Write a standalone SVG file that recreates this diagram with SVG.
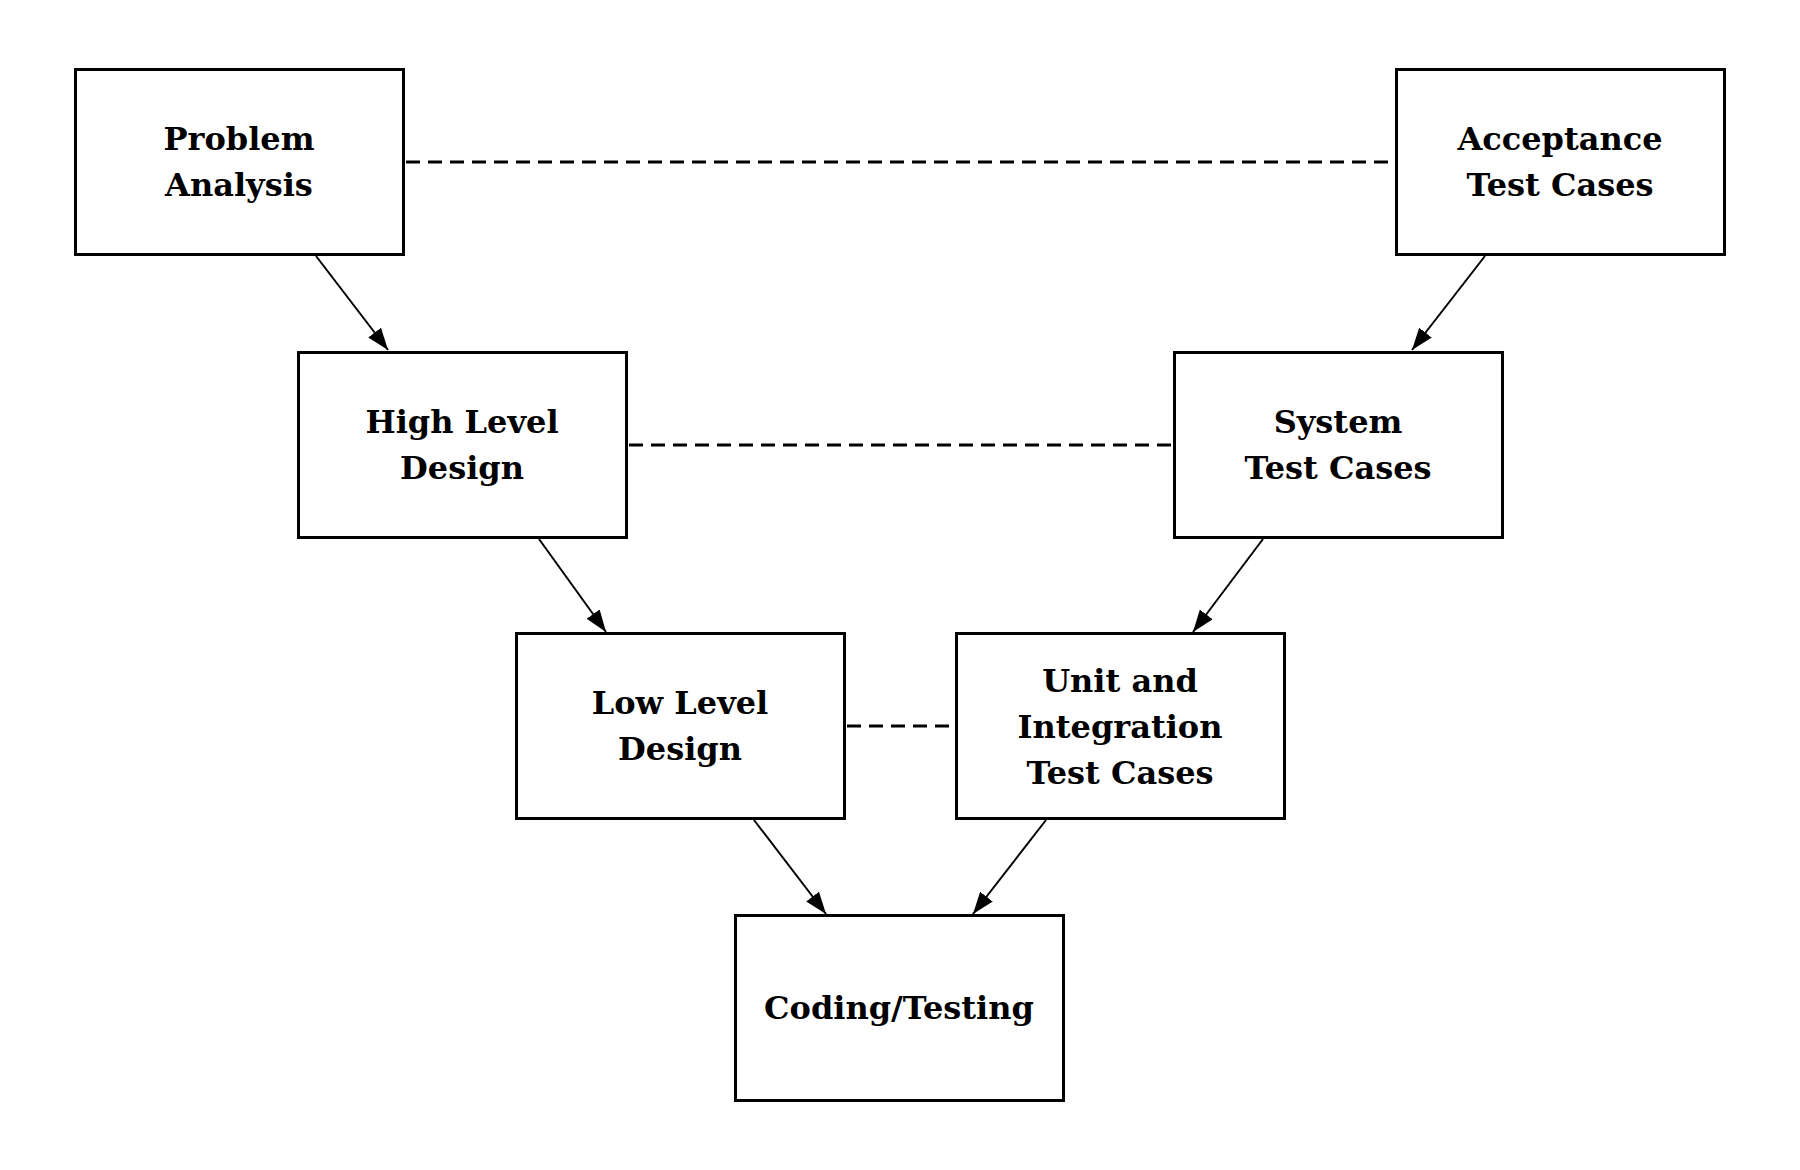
<svg xmlns="http://www.w3.org/2000/svg" width="1800" height="1170" viewBox="0 0 1800 1170">
<style>
.box{fill:#fff;stroke:#000;stroke-width:3}
.lbl{font-family:"DejaVu Serif","Liberation Serif",serif;font-weight:bold;font-size:32px;fill:#000;text-anchor:middle}
.arrow{stroke:#000;stroke-width:2;fill:none;marker-end:url(#ah)}
.dash{stroke:#000;stroke-width:3;fill:none;stroke-dasharray:14 8}
</style>
<defs>
<marker id="ah" markerUnits="userSpaceOnUse" markerWidth="22" markerHeight="16" refX="22" refY="8" orient="auto">
<path d="M0,0 L22,8 L0,16 z" fill="#000"/>
</marker>
</defs>
<rect width="1800" height="1170" fill="#fff"/>
<g id="connectors">
<line class="dash" x1="406" y1="162" x2="1394" y2="162"/>
<line class="dash" x1="629" y1="445" x2="1172" y2="445"/>
<line class="dash" x1="847" y1="726" x2="954" y2="726"/>
<line class="arrow" x1="316" y1="256" x2="388" y2="350"/>
<line class="arrow" x1="539" y1="539" x2="606" y2="632"/>
<line class="arrow" x1="754" y1="820" x2="826" y2="914"/>
<line class="arrow" x1="1485" y1="256" x2="1412" y2="350"/>
<line class="arrow" x1="1263" y1="539" x2="1193" y2="632"/>
<line class="arrow" x1="1046" y1="820" x2="973" y2="914"/>
</g>
<g id="problem-analysis">
<rect class="box" x="75.5" y="69.5" width="328" height="185"/>
<text class="lbl" x="239" y="150">Problem</text>
<text class="lbl" x="239" y="196">Analysis</text>
</g>
<g id="high-level-design">
<rect class="box" x="298.5" y="352.5" width="328" height="185"/>
<text class="lbl" x="462" y="433">High Level</text>
<text class="lbl" x="462" y="479">Design</text>
</g>
<g id="low-level-design">
<rect class="box" x="516.5" y="633.5" width="328" height="185"/>
<text class="lbl" x="680" y="714">Low Level</text>
<text class="lbl" x="680" y="760">Design</text>
</g>
<g id="coding-testing">
<rect class="box" x="735.5" y="915.5" width="328" height="185"/>
<text class="lbl" x="899" y="1019">Coding/Testing</text>
</g>
<g id="unit-integration-test-cases">
<rect class="box" x="956.5" y="633.5" width="328" height="185"/>
<text class="lbl" x="1120" y="692">Unit and</text>
<text class="lbl" x="1120" y="738">Integration</text>
<text class="lbl" x="1120" y="784">Test Cases</text>
</g>
<g id="system-test-cases">
<rect class="box" x="1174.5" y="352.5" width="328" height="185"/>
<text class="lbl" x="1338" y="433">System</text>
<text class="lbl" x="1338" y="479">Test Cases</text>
</g>
<g id="acceptance-test-cases">
<rect class="box" x="1396.5" y="69.5" width="328" height="185"/>
<text class="lbl" x="1560" y="150">Acceptance</text>
<text class="lbl" x="1560" y="196">Test Cases</text>
</g>
</svg>
